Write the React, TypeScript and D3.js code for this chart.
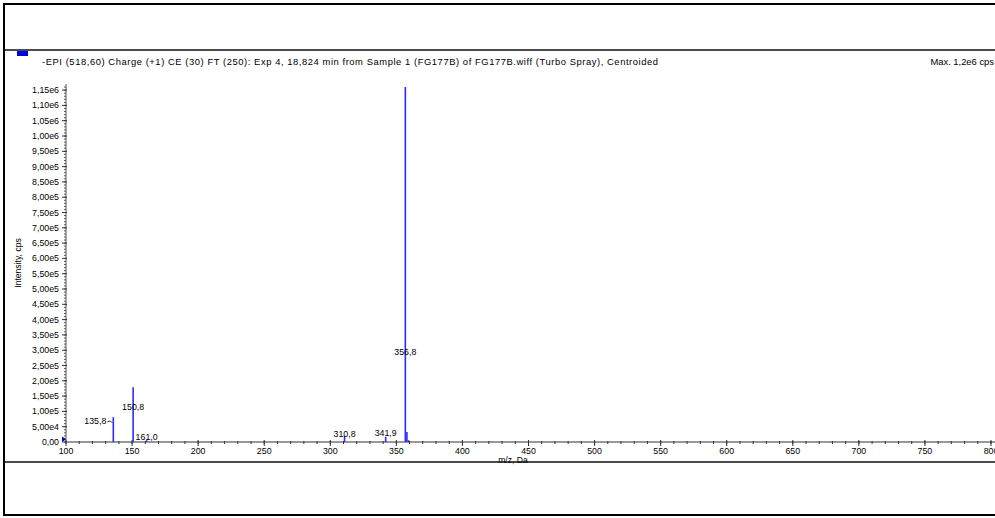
import React, { useMemo } from 'react';
import * as d3 from 'd3';

const W = 995;
const H = 518;
const FONT = '"Liberation Sans", Arial, sans-serif';
const BLUE = '#2a2aff';

const title =
  '-EPI (518,60) Charge (+1) CE (30) FT (250): Exp 4, 18,824 min from Sample 1 (FG177B) of FG177B.wiff (Turbo Spray), Centroided';
const maxText = 'Max. 1,2e6 cps';

// centroided peaks: m/z and intensity (cps)
const peakMz = [100.2, 135.8, 150.8, 161.0, 310.8, 341.9, 356.8, 358.0, 359.2];
const peakInt = [18000, 81000, 179000, 6000, 20000, 17000, 1160000, 33000, 6000];

// labelled peaks and the intensity level where each label sits
const labelMz = [135.8, 150.8, 161.0, 310.8, 341.9, 356.8];
const labelText = ['135,8', '150,8', '161,0', '310,8', '341,9', '356,8'];
const labelAt = [69000, 114000, 16000, 26000, 29000, 294000];

const xTicks = [100, 150, 200, 250, 300, 350, 400, 450, 500, 550, 600, 650, 700, 750, 800];
const yTicks = d3.range(0, 1.15e6 + 1, 5e4);

const fmtY = (v: number) => {
  if (v === 0) return '0,00';
  const e = Math.floor(Math.log10(v));
  const m = v / Math.pow(10, e);
  return `${m.toFixed(2).replace('.', ',')}e${e}`;
};

export default function App() {
  const x = useMemo(() => d3.scaleLinear().domain([100, 800]).range([66, 991]), []);
  const y = useMemo(() => d3.scaleLinear().domain([0, 1.17e6]).range([442, 84]), []);

  const xMinor = d3.range(100, 805, 10);
  const yMinor = d3.range(0, 1.17e6, 1e4);

  return (
    <svg
      width={W}
      height={H}
      style={{ position: 'absolute', left: 0, top: 0, background: '#fff' }}
      fontFamily={FONT}
    >
      {/* frame */}
      <line x1={4} x2={4} y1={3} y2={516} stroke="#000" strokeWidth={2} />
      <line x1={3} x2={W} y1={4} y2={4} stroke="#000" strokeWidth={2} />
      <line x1={3} x2={W} y1={515} y2={515} stroke="#000" strokeWidth={2} />
      <line x1={4} x2={W} y1={50} y2={50} stroke="#111" strokeWidth={1.5} />
      <line x1={4} x2={W} y1={462} y2={462} stroke="#111" strokeWidth={1.5} />

      {/* header */}
      <rect x={17} y={51} width={11} height={5} fill="#0000e0" />
      <text x={42} y={65} fontSize={9.4} fill="#000" textLength={616} lengthAdjust="spacing">
        {title}
      </text>
      <text x={994} y={65} fontSize={9.4} fill="#000" textAnchor="end">{maxText}</text>

      {/* y axis */}
      <line x1={x(100)} x2={x(100)} y1={y(0)} y2={y(1.17e6)} stroke="#555" />
      {yMinor.map((v) => (
        <line key={`ym${v}`} x1={x(100) - 2} x2={x(100)} y1={y(v)} y2={y(v)} stroke="#555" />
      ))}
      {yTicks.map((v) => (
        <g key={`yt${v}`}>
          <line x1={x(100) - 4} x2={x(100) + 1} y1={y(v)} y2={y(v)} stroke="#333" />
          <text x={x(100) - 7} y={y(v) + 3} fontSize={8.8} textAnchor="end" fill="#000">
            {fmtY(v)}
          </text>
        </g>
      ))}
      <text
        transform={`translate(21, 263) rotate(-90)`}
        fontSize={8.6}
        textAnchor="middle"
        fill="#000"
      >
        Intensity, cps
      </text>

      {/* x axis */}
      <line x1={x(100)} x2={W} y1={y(0)} y2={y(0)} stroke="#777" strokeWidth={1.5} />
      {xMinor.map((v) => (
        <line key={`xm${v}`} x1={x(v)} x2={x(v)} y1={y(0) - 1} y2={y(0) + 2} stroke="#333" />
      ))}
      {xTicks.map((v) => (
        <g key={`xt${v}`}>
          <line x1={x(v)} x2={x(v)} y1={y(0) - 2} y2={y(0) + 4} stroke="#333" />
          <text x={x(v)} y={y(0) + 12} fontSize={8.8} textAnchor="middle" fill="#000">
            {v}
          </text>
        </g>
      ))}
      <text x={513} y={y(0) + 20.5} fontSize={8.6} textAnchor="middle" fill="#000">
        m/z, Da
      </text>

      {/* origin marker */}
      <path
        d={`M${x(100) - 4},${y(0)} L${x(100) - 4},${y(peakInt[0])} L${x(100)},${y(peakInt[0] / 2)} Z`}
        fill="#0000c0"
      />

      {/* peaks */}
      {peakMz.slice(1).map((m, i) => (
        <line
          key={`p${m}`}
          x1={x(m)}
          x2={x(m)}
          y1={y(0)}
          y2={y(peakInt[i + 1])}
          stroke={BLUE}
          strokeWidth={1.6}
        />
      ))}

      {/* peak labels */}
      {labelMz.map((m, i) => {
        const left = i === 0;
        return (
          <g key={`l${m}`}>
            <text
              x={left ? x(m) - 7 : x(m)}
              y={y(labelAt[i]) + 3}
              fontSize={8.8}
              textAnchor={left ? 'end' : 'middle'}
              fill="#000"
            >
              {labelText[i]}
            </text>
            {left && (
              <path
                d={`M${x(m) - 6},${y(labelAt[i]) + 1} L${x(m) - 3},${y(labelAt[i])} L${x(m) - 1},${y(labelAt[i]) + 2}`}
                fill="none"
                stroke="#000"
                strokeWidth={0.8}
              />
            )}
          </g>
        );
      })}
    </svg>
  );
}
